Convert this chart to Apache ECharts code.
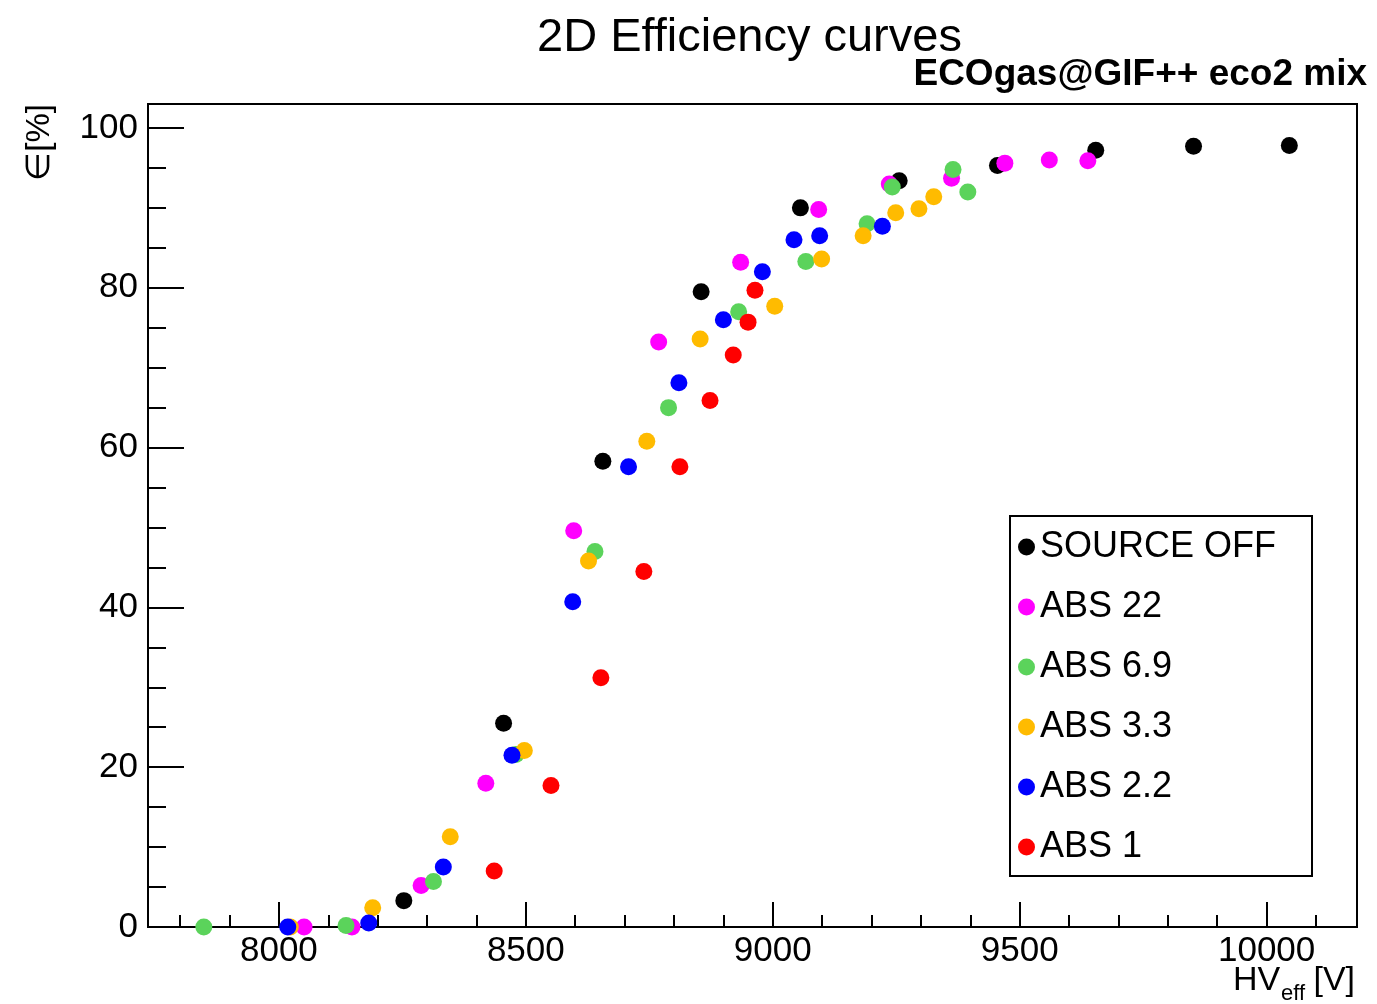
<!DOCTYPE html>
<html>
<head>
<meta charset="utf-8">
<title>2D Efficiency curves</title>
<script src="https://cdn.jsdelivr.net/npm/echarts@6/dist/echarts.min.js"></script>
<style>
  html, body { margin: 0; padding: 0; background: #fff; }
  #chart { width: 1377px; height: 1004px; }
</style>
</head>
<body>
<div id="chart"></div>
<script>
// [HV_eff (V), efficiency (%)] per run
const sourceOff = [[8253, 3.3], [8455, 25.5], [8656, 58.3], [8855, 79.5], [9056, 90.0], [9256, 93.4], [9455, 95.3], [9654, 97.2], [9852, 97.7], [10046, 97.8]]
const abs22 = [[8051, 0], [8148, 0], [8288, 5.2], [8419, 18.0], [8597, 49.6], [8769, 73.2], [8935, 83.2], [9093, 89.8], [9236, 93.0], [9362, 93.7], [9470, 95.6], [9560, 96.0], [9638, 95.9]]
const abs69 = [[7848, 0], [8136, 0.2], [8313, 5.7], [8480, 21.6], [8640, 47.0], [8789, 65.0], [8931, 77.0], [9067, 83.3], [9191, 88.0], [9242, 92.6], [9365, 94.8], [9395, 92.0]]
const abs33 = [[8023, 0], [8190, 2.4], [8347, 11.3], [8497, 22.1], [8627, 45.8], [8745, 60.8], [8853, 73.6], [9004, 77.7], [9099, 83.6], [9183, 86.5], [9249, 89.4], [9296, 89.9], [9326, 91.4]]
const abs2p2 = [[8018, 0], [8182, 0.5], [8333, 7.5], [8472, 21.5], [8595, 40.7], [8708, 57.6], [8810, 68.1], [8900, 76.0], [8979, 82.0], [9043, 86.0], [9095, 86.5], [9222, 87.7]]
const abs1 = [[8436, 7.0], [8551, 17.7], [8652, 31.2], [8739, 44.5], [8812, 57.6], [8873, 65.9], [8920, 71.6], [8950, 75.7], [8964, 79.7]]

const seriesNames = ['SOURCE OFF', 'ABS 22', 'ABS 6.9', 'ABS 3.3', 'ABS 2.2', 'ABS 1']
const seriesData = [sourceOff, abs22, abs69, abs33, abs2p2, abs1]
const seriesColors = ['#000000', '#ff00ff', '#5bd35b', '#ffbb00', '#0000ff', '#ff0000']

const xMajorTicks = [8000, 8500, 9000, 9500, 10000]
const xMinorTicks = [7800, 7900, 8100, 8200, 8300, 8400, 8600, 8700, 8800, 8900, 9100, 9200, 9300, 9400, 9600, 9700, 9800, 9900, 10100]
const yMajorTicks = [0, 20, 40, 60, 80, 100]
const yMinorTicks = [5, 10, 15, 25, 30, 35, 45, 50, 55, 65, 70, 75, 85, 90, 95]

const FONT = "'Liberation Sans', Arial, Helvetica, sans-serif"
const chart = echarts.init(document.getElementById('chart'))

const xRange = { min: 7735, max: 10183 }
const yRange = { min: 0, max: 103 }

const option = {
  backgroundColor: '#fff',
  animation: false,
  title: [
    {
      text: '2D Efficiency curves',
      left: 537, top: 15, padding: 0,
      textStyle: { fontFamily: FONT, fontSize: 47, fontWeight: 'normal', color: '#000' }
    },
    {
      text: 'ECOgas@GIF++ eco2 mix',
      right: 10, top: 56, padding: 0,
      textStyle: { fontFamily: FONT, fontSize: 37, fontWeight: 'bold', color: '#000' }
    }
  ],
  grid: {
    left: 148, right: 20, top: 104, bottom: 77,
    show: true, borderColor: '#000', borderWidth: 2, backgroundColor: '#fff'
  },
  legend: {
    orient: 'vertical',
    left: 1010, top: 516,
    padding: [11, 36, 9, 8],
    itemGap: 20,
    itemWidth: 17, itemHeight: 17,
    icon: 'circle',
    borderColor: '#000', borderWidth: 2,
    backgroundColor: '#fff',
    data: seriesNames,
    textStyle: { fontFamily: FONT, fontSize: 36, lineHeight: 40, color: '#000' }
  },
  xAxis: [
    {
      type: 'value', ...xRange,
      axisLine: { show: true, lineStyle: { color: '#000', width: 2 } },
      axisTick: { show: true, inside: true, length: 25, lineStyle: { color: '#000', width: 2 }, customValues: xMajorTicks },
      axisLabel: { show: true, margin: 7, fontFamily: FONT, fontSize: 35, color: '#000', customValues: xMajorTicks, formatter: v => String(v) },
      splitLine: { show: false }
    },
    {
      type: 'value', ...xRange, position: 'bottom',
      axisLine: { show: false },
      axisTick: { show: true, inside: true, length: 12, lineStyle: { color: '#000', width: 2 }, customValues: xMinorTicks },
      axisLabel: { show: false },
      splitLine: { show: false }
    }
  ],
  yAxis: [
    {
      type: 'value', ...yRange,
      axisLine: { show: true, lineStyle: { color: '#000', width: 2 } },
      axisTick: { show: true, inside: true, length: 36, lineStyle: { color: '#000', width: 2 }, customValues: yMajorTicks },
      axisLabel: { show: true, margin: 10, fontFamily: FONT, fontSize: 35, color: '#000', customValues: yMajorTicks, formatter: v => String(v) },
      splitLine: { show: false }
    },
    {
      type: 'value', ...yRange, position: 'left',
      axisLine: { show: false },
      axisTick: { show: true, inside: true, length: 18, lineStyle: { color: '#000', width: 2 }, customValues: yMinorTicks },
      axisLabel: { show: false },
      splitLine: { show: false }
    }
  ],
  series: seriesNames.map((name, i) => ({
    name,
    type: 'scatter',
    xAxisIndex: 0,
    yAxisIndex: 0,
    symbol: 'circle',
    symbolSize: 17,
    clip: false,
    itemStyle: { color: seriesColors[i], opacity: 1 },
    emphasis: { disabled: true },
    data: seriesData[i]
  })),
  graphic: [
    // x axis title: HV_eff [V]
    { type: 'text', x: 1233, y: 998, style: { text: 'HV', font: '34px ' + FONT, fill: '#000', align: 'left', verticalAlign: 'bottom' } },
    { type: 'text', x: 1281, y: 1005, style: { text: 'eff', font: '22px ' + FONT, fill: '#000', align: 'left', verticalAlign: 'bottom' } },
    { type: 'text', x: 1355, y: 998, style: { text: '[V]', font: '34px ' + FONT, fill: '#000', align: 'right', verticalAlign: 'bottom' } },
    // y axis title, rotated
    { type: 'text', x: 40, y: 104, rotation: Math.PI / 2, style: { text: '∈[%]', font: '33px ' + FONT, fill: '#000', align: 'right', verticalAlign: 'middle' } }
  ]
}

chart.setOption(option)
window.addEventListener('resize', () => chart.resize())
</script>
</body>
</html>
